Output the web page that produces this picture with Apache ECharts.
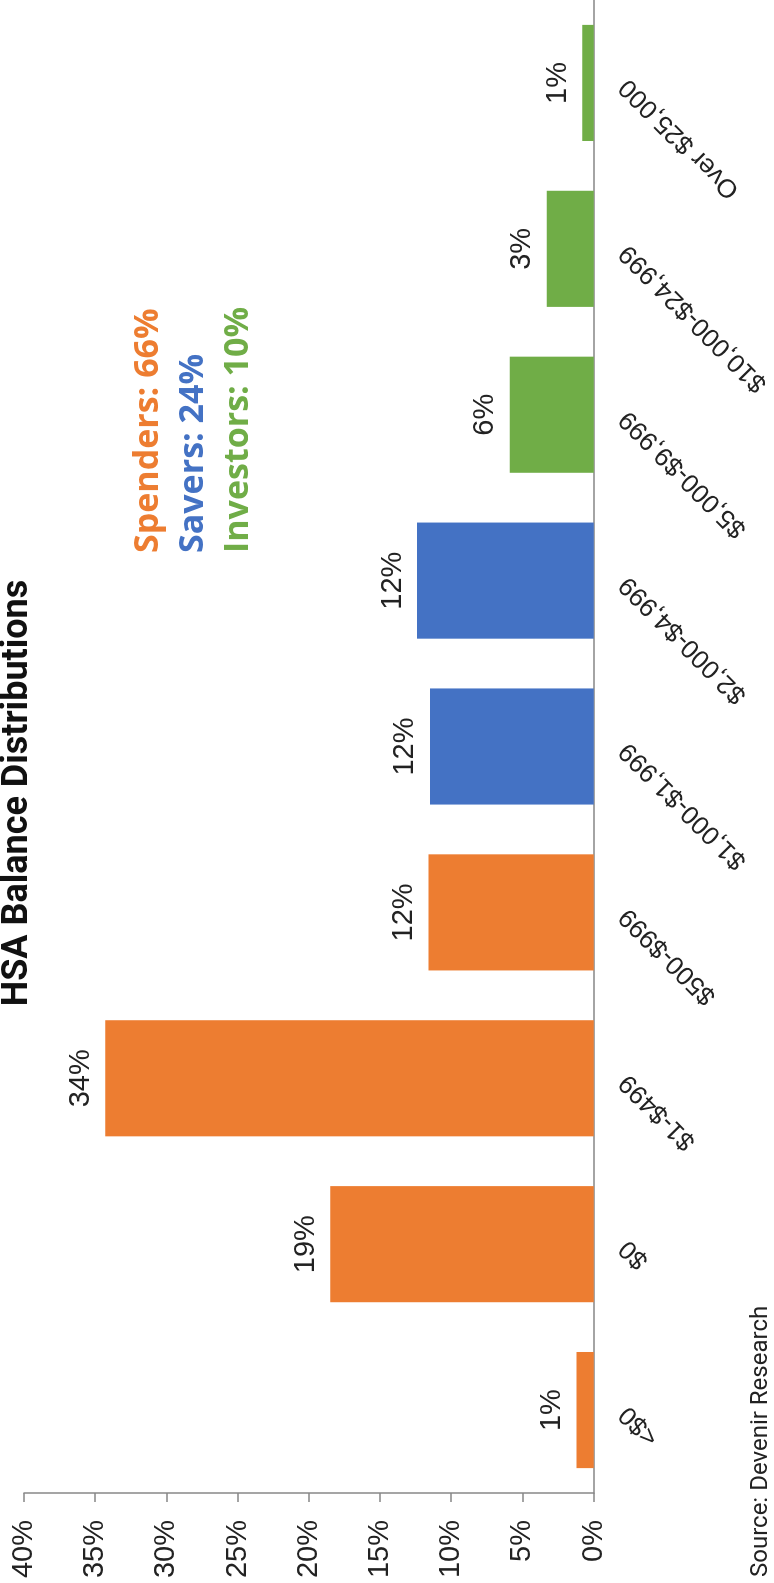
<!DOCTYPE html>
<html>
<head>
<meta charset="utf-8">
<script src="https://cdn.jsdelivr.net/npm/echarts@6/dist/echarts.min.js"></script>
<style>
  html, body { margin: 0; padding: 0; background: #fff; overflow: hidden; }
  body { width: 774px; height: 1583px; position: relative; }
  #chart {
    position: absolute; left: 0; top: 0;
    width: 1583px; height: 774px;
    transform-origin: 0 0;
    transform: translate(0, 1583px) rotate(-90deg);
  }
</style>
</head>
<body>
<div id="chart"></div>
<script>
// ---- data ----
var categories = ['<$0', '$0', '$1-$499', '$500-$999', '$1,000-$1,999', '$2,000-$4,999', '$5,000-$9,999', '$10,000-$24,999', 'Over $25,000'];
var shares = [1.2, 18.5, 34.3, 11.6, 11.5, 12.4, 5.9, 3.3, 0.8];
var groupOfCategory = ['Spenders', 'Spenders', 'Spenders', 'Spenders', 'Savers', 'Savers', 'Investors', 'Investors', 'Investors'];
var groupNames = ['Spenders', 'Savers', 'Investors'];
var groupTotals = [66, 24, 10];
var groupColors = { Spenders: '#ED7D31', Savers: '#4472C4', Investors: '#70AD47' };
var yTicks = { min: 0, max: 40, interval: 5 };
var titleText = 'HSA Balance Distributions';
var sourceText = 'Source: Devenir Research';

var narrow = '"Liberation Sans Narrow", "Arial Narrow", "Liberation Sans", Arial, sans-serif';

var chart = echarts.init(document.getElementById('chart'), null, { renderer: 'canvas', width: 1583, height: 774 });

var legendGraphics = groupNames.map(function (g, i) {
  return {
    type: 'text',
    left: 1030,
    top: 131 + i * 45,
    style: {
      text: g + ': ' + groupTotals[i] + '%',
      fill: groupColors[g],
      font: 'bold 34px "Open Sans", sans-serif'
    }
  };
});

var option = {
  backgroundColor: '#ffffff',
  animation: false,
  title: {
    text: titleText,
    left: 785,
    textAlign: 'center',
    top: -5,
    textStyle: { fontFamily: 'Roboto, sans-serif', fontWeight: 'bold', fontSize: 36, color: '#111' }
  },
  grid: { left: 90, top: 24, width: 1498, height: 575, containLabel: false },
  xAxis: {
    type: 'category',
    data: categories,
    axisLine: { show: true, lineStyle: { color: '#878787', width: 1.5 } },
    axisTick: { show: false },
    axisLabel: { interval: 0, rotate: 45, margin: 30, fontSize: 26, fontFamily: narrow, color: '#222' }
  },
  yAxis: {
    type: 'value',
    min: yTicks.min, max: yTicks.max, interval: yTicks.interval,
    axisLine: { show: true, lineStyle: { color: '#878787', width: 1.5 } },
    axisTick: { show: true, length: 9, lineStyle: { color: '#878787', width: 1.5 } },
    splitLine: { show: false },
    axisLabel: { formatter: '{value}%', margin: 27, fontSize: 29, fontFamily: narrow, color: '#222' }
  },
  series: [{
    type: 'bar',
    barCategoryGap: '30%',
    data: shares.map(function (v, i) {
      return { value: v, itemStyle: { color: groupColors[groupOfCategory[i]] } };
    }),
    label: {
      show: true, position: 'top', distance: 10,
      fontSize: 29, fontFamily: narrow, color: '#222',
      formatter: function (p) { return Math.round(p.value) + '%'; }
    }
  }],
  graphic: legendGraphics.concat([{
    type: 'text',
    left: 6,
    top: 749,
    style: { text: sourceText, fill: '#222', font: '24px Roboto, sans-serif' }
  }])
};
chart.setOption(option);
</script>
</body>
</html>
